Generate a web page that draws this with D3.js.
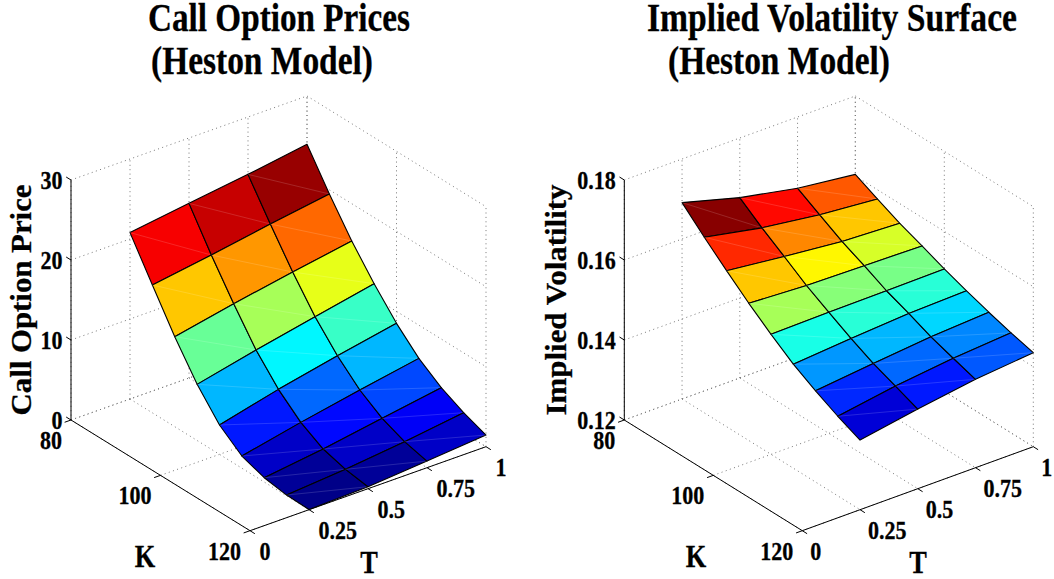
<!DOCTYPE html>
<html>
<head>
<meta charset="utf-8">
<script src="https://d3js.org/d3.v7.min.js"></script>
<style>
  html, body { margin: 0; padding: 0; background: #fff; }
  text { font-family: "Liberation Serif", serif; font-weight: bold; fill: #000; stroke: #000; stroke-width: 0.3; }
</style>
</head>
<body>
<div id="chart"></div>
<script>
// strike and maturity grid of the surface
const strikes = [80, 85, 90, 95, 100, 105, 110, 115, 120]
const maturities = [0.25, 0.5, 0.75, 1]

// one row per strike, one column per maturity
const callPrices = [
  [20.80, 21.83, 22.83, 23.96],
  [15.98, 17.10, 18.35, 19.48],
  [11.25, 12.75, 14.08, 15.33],
  [7.02, 8.69, 10.23, 11.73],
  [3.67, 5.50, 7.08, 8.50],
  [1.52, 3.10, 4.52, 5.85],
  [0.54, 1.50, 2.71, 3.92],
  [0.10, 0.69, 1.52, 2.52],
  [0.02, 0.25, 0.83, 1.46]
]
const impliedVols = [
  [0.1691, 0.1651, 0.1622, 0.1604],
  [0.1639, 0.1610, 0.1590, 0.1577],
  [0.1590, 0.1573, 0.1558, 0.1551],
  [0.1543, 0.1535, 0.1532, 0.1529],
  [0.1500, 0.1503, 0.1504, 0.1506],
  [0.1460, 0.1472, 0.1482, 0.1486],
  [0.1428, 0.1444, 0.1458, 0.1467],
  [0.1399, 0.1422, 0.1439, 0.1450],
  [0.1374, 0.1399, 0.1421, 0.1435]
]

const strikeTicks = [80, 100, 120]
const maturityTicks = [0, 0.25, 0.5, 0.75, 1]
const maturityLabels = ['0', '0.25', '0.5', '0.75', '1']
const priceTicks = [0, 10, 20, 30]
const priceLabels = ['0', '10', '20', '30']
const volTicks = [0.12, 0.14, 0.16, 0.18]
const volLabels = ['0.12', '0.14', '0.16', '0.18']

const svg = d3.select('#chart').append('svg')
  .attr('width', 1054)
  .attr('height', 579)
  .style('display', 'block')

// matlab jet(64)
const jetStops = d3.scaleLinear()
  .domain([0, 0.125, 0.375, 0.625, 0.875, 1])
  .range(['#000080', '#0000ff', '#00ffff', '#ffff00', '#ff0000', '#800000'])
  .clamp(true)
const jet = t => jetStops((Math.min(Math.floor(t * 64), 63) + 0.5) / 64)

const line = d3.line()

function drawPanel (cfg) {
  const g = svg.append('g')

  const kx = d3.scaleLinear().domain([80, 120]).range([0, cfg.kWidth])
  const ky = d3.scaleLinear().domain([80, 120]).range([0, 110.7])
  const tx = d3.scaleLinear().domain([0, 1]).range([0, cfg.tWidth])
  const ty = d3.scaleLinear().domain([0, 1]).range([0, -84])
  const zy = d3.scaleLinear().domain(cfg.zDomain).range([0, -240])

  // 3d point to page coordinates, orthographic
  const project = (k, t, z) => [
    cfg.x0 + kx(k) + tx(t),
    420 + ky(k) + ty(t) + zy(z)
  ]

  const zMin = cfg.zTicks[0]
  const zMax = cfg.zTicks[cfg.zTicks.length - 1]

  const grid = []
  // floor
  maturityTicks.forEach(t => grid.push([project(80, t, zMin), project(120, t, zMin)]))
  strikeTicks.forEach(k => grid.push([project(k, 0, zMin), project(k, 1, zMin)]))
  // back wall K = 80
  maturityTicks.forEach(t => grid.push([project(80, t, zMin), project(80, t, zMax)]))
  cfg.zTicks.forEach(z => grid.push([project(80, 0, z), project(80, 1, z)]))
  // back wall T = 1
  strikeTicks.forEach(k => grid.push([project(k, 1, zMin), project(k, 1, zMax)]))
  cfg.zTicks.forEach(z => grid.push([project(80, 1, z), project(120, 1, z)]))

  g.append('g').selectAll('path').data(grid).enter().append('path')
    .attr('d', line)
    .attr('fill', 'none')
    .attr('stroke', '#777')
    .attr('stroke-width', 1)
    .attr('stroke-dasharray', '1 3.4')

  // solid axes
  const axes = [
    [project(80, 0, zMin), project(80, 0, zMax)],
    [project(80, 0, zMin), project(120, 0, zMin)],
    [project(120, 0, zMin), project(120, 1, zMin)]
  ]
  const tickLen = 0.027
  cfg.zTicks.forEach(z => axes.push([project(80, 0, z), project(80 - 40 * tickLen, 0, z)]))
  strikeTicks.forEach(k => axes.push([project(k, 0, zMin), project(k, -tickLen, zMin)]))
  maturityTicks.forEach(t => axes.push([project(120, t, zMin), project(120 + 40 * tickLen, t, zMin)]))

  g.append('g').selectAll('path').data(axes).enter().append('path')
    .attr('d', line)
    .attr('fill', 'none')
    .attr('stroke', '#000')
    .attr('stroke-width', 1)

  // surface facets, coloured from the first corner like surf does
  const color = d3.scaleLinear().domain([d3.min(cfg.z.flat()), cfg.cMax]).range([0, 1])
  const cells = []
  d3.range(strikes.length - 1).forEach(i => {
    d3.range(maturities.length - 1).forEach(j => {
      const p = (a, b) => project(strikes[a], maturities[b], cfg.z[a][b])
      cells.push({
        corners: [p(i, j), p(i, j + 1), p(i + 1, j + 1), p(i + 1, j)],
        seam: [p(i, j), p(i + 1, j + 1)],
        fill: jet(color(cfg.z[i][j]))
      })
    })
  })

  const cell = g.append('g').selectAll('g').data(cells).enter().append('g')
  cell.append('path')
    .attr('d', d => line(d.corners) + 'Z')
    .attr('fill', d => d.fill)
    .attr('stroke', '#000')
    .attr('stroke-width', 1.1)
    .attr('stroke-linejoin', 'round')
  cell.append('path')
    .attr('d', d => line(d.seam))
    .attr('fill', 'none')
    .attr('stroke', '#fff')
    .attr('stroke-opacity', 0.25)
    .attr('stroke-width', 0.6)

  // tick labels, slightly condensed
  const label = (sel, anchor, dx, dy) => sel
    .attr('text-anchor', anchor)
    .attr('dy', '0.34em')
    .attr('font-size', 25)
    .attr('transform', d => {
      const q = d.at
      return 'translate(' + (q[0] + dx) + ',' + (q[1] + dy) + ') scale(0.88,1)'
    })
    .text(d => d.text)

  g.append('g').selectAll('text')
    .data(cfg.zTicks.map((z, i) => ({ at: project(80, 0, z), text: cfg.zLabels[i] })))
    .enter().append('text')
    .call(label, 'end', -8.5, 0)
  g.append('g').selectAll('text')
    .data(strikeTicks.map(k => ({ at: project(k, 0, zMin), text: String(k) })))
    .enter().append('text')
    .call(label, 'end', -9, 20.5)
  g.append('g').selectAll('text')
    .data(maturityTicks.map((t, i) => ({ at: project(120, t, zMin), text: maturityLabels[i] })))
    .enter().append('text')
    .call(label, 'start', cfg.tLabelDx, 21)

  // axis titles
  const axisTitle = (pos, text) => g.append('text')
    .attr('transform', 'translate(' + pos[0] + ',' + pos[1] + ') scale(0.85,1)')
    .attr('text-anchor', 'middle')
    .attr('font-size', 31)
    .text(text)
  axisTitle(cfg.kTitle, 'K')
  axisTitle(cfg.tTitle, 'T')

  g.append('text')
    .attr('transform', 'translate(' + cfg.zTitle[0] + ',' + cfg.zTitle[1] + ') rotate(-90)')
    .attr('text-anchor', 'middle')
    .attr('font-size', 30)
    .attr('textLength', 231)
    .attr('lengthAdjust', 'spacingAndGlyphs')
    .text(cfg.zName)

  // two line title
  cfg.title.forEach(d => {
    g.append('text')
      .attr('x', d.x).attr('y', d.y)
      .attr('font-size', 40)
      .attr('textLength', d.w)
      .attr('lengthAdjust', 'spacingAndGlyphs')
      .text(d.text)
  })
}

drawPanel({
  x0: 71,
  kWidth: 179,
  tWidth: 236,
  z: callPrices,
  cMax: 23.5,
  zDomain: [0, 30],
  zTicks: priceTicks,
  zLabels: priceLabels,
  zName: 'Call Option Price',
  tLabelDx: 9.5,
  kTitle: [145, 567],
  tTitle: [369, 573],
  zTitle: [31, 300],
  title: [
    { text: 'Call Option Prices', x: 148, y: 31, w: 262 },
    { text: '(Heston Model)', x: 151, y: 74, w: 222 }
  ]
})

drawPanel({
  x0: 624.3,
  kWidth: 178,
  tWidth: 231,
  z: impliedVols,
  cMax: 0.1691,
  zDomain: [0.12, 0.18],
  zTicks: volTicks,
  zLabels: volLabels,
  zName: 'Implied Volatility',
  tLabelDx: 8,
  kTitle: [696, 567],
  tTitle: [918, 573],
  zTitle: [566, 300],
  title: [
    { text: 'Implied Volatility Surface', x: 647, y: 31, w: 370 },
    { text: '(Heston Model)', x: 668, y: 74, w: 222 }
  ]
})
</script>
</body>
</html>
